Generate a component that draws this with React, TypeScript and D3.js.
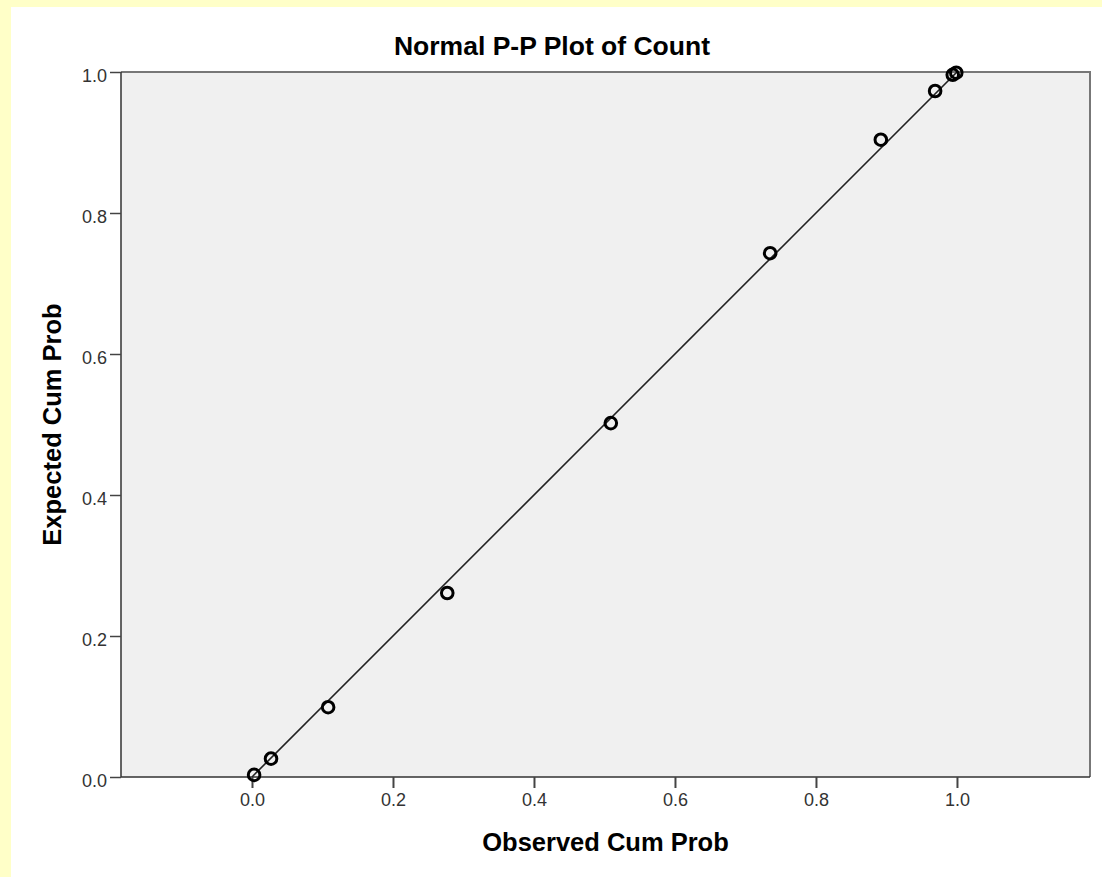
import React, { useEffect, useRef } from 'react';
import * as d3 from 'd3';

// observed / expected cumulative probabilities
const observed = [0.003, 0.027, 0.108, 0.277, 0.509, 0.735, 0.892, 0.969, 0.994, 0.999];
const expected = [0.003, 0.026, 0.099, 0.261, 0.502, 0.743, 0.904, 0.973, 0.996, 0.999];
const tickValues = [0, 0.2, 0.4, 0.6, 0.8, 1.0];

const W = 1102;
const H = 877;

const App = () => {
    const ref = useRef<SVGSVGElement | null>(null);

    useEffect(() => {
        if (!ref.current) return;
        const svg = d3.select(ref.current);
        svg.selectAll('*').remove();

        const left = 121, right = 1090, top = 72, bottom = 777;
        const x = d3.scaleLinear().domain([-0.1858, 1.1887]).range([left, right]);
        const y = d3.scaleLinear().domain([0, 1]).range([bottom, top]);

        // page background with yellow strip
        svg.append('rect').attr('width', W).attr('height', H).attr('fill', '#ffffc8');
        svg.append('rect').attr('x', 11).attr('y', 7).attr('width', W - 11).attr('height', H - 7).attr('fill', '#ffffff');

        // plot area
        svg.append('rect')
            .attr('x', left).attr('y', top)
            .attr('width', right - left).attr('height', bottom - top)
            .attr('fill', '#f0f0f0');
        svg.append('path')
            .attr('d', `M${left},${top}H${right}V${bottom}`)
            .attr('fill', 'none').attr('stroke', '#777').attr('stroke-width', 2);
        svg.append('path')
            .attr('d', `M${left},${top}V${bottom}H${right}`)
            .attr('fill', 'none').attr('stroke', '#333').attr('stroke-width', 1.5);

        const fontFamily = "'Liberation Sans', Arial, sans-serif";

        const xAxis = svg.append('g')
            .attr('transform', `translate(0,${bottom})`)
            .call(d3.axisBottom(x).tickValues(tickValues).tickFormat(d3.format('.1f')).tickSize(11).tickPadding(5));
        xAxis.select('.domain').remove();
        xAxis.selectAll('line').attr('stroke', '#444').attr('stroke-width', 2);
        xAxis.selectAll('text').attr('font-family', fontFamily).attr('font-size', 18).attr('fill', '#333');

        const yAxis = svg.append('g')
            .attr('transform', `translate(${left},0)`)
            .call(d3.axisLeft(y).tickValues(tickValues).tickFormat(d3.format('.1f')).tickSize(11).tickPadding(3));
        yAxis.select('.domain').remove();
        yAxis.selectAll('line').attr('stroke', '#444').attr('stroke-width', 1.5);
        yAxis.selectAll('text').attr('font-family', fontFamily).attr('font-size', 18).attr('fill', '#333').attr('dy', '0.5em');

        // reference diagonal
        svg.append('line')
            .attr('x1', x(0)).attr('y1', y(0))
            .attr('x2', x(1)).attr('y2', y(1))
            .attr('stroke', '#222').attr('stroke-width', 1.6);

        svg.append('g')
            .selectAll('circle')
            .data(observed.map((o, i) => ({ o, e: expected[i] })))
            .join('circle')
            .attr('cx', d => x(d.o))
            .attr('cy', d => y(d.e))
            .attr('r', 5.8)
            .attr('fill', 'none')
            .attr('stroke', '#000')
            .attr('stroke-width', 3);

        svg.append('text')
            .attr('x', 552).attr('y', 55)
            .attr('text-anchor', 'middle')
            .attr('font-family', fontFamily).attr('font-weight', 'bold').attr('font-size', 26.5)
            .text('Normal P-P Plot of Count');

        svg.append('text')
            .attr('x', (left + right) / 2).attr('y', 851)
            .attr('text-anchor', 'middle')
            .attr('font-family', fontFamily).attr('font-weight', 'bold').attr('font-size', 25.5)
            .text('Observed Cum Prob');

        svg.append('text')
            .attr('transform', `translate(61,${(top + bottom) / 2}) rotate(-90)`)
            .attr('text-anchor', 'middle')
            .attr('font-family', fontFamily).attr('font-weight', 'bold').attr('font-size', 25.5)
            .text('Expected Cum Prob');
    }, []);

    return (
        <svg
            ref={ref}
            width={W}
            height={H}
            style={{ position: 'absolute', left: 0, top: 0, display: 'block' }}
        />
    );
};

export default App;
